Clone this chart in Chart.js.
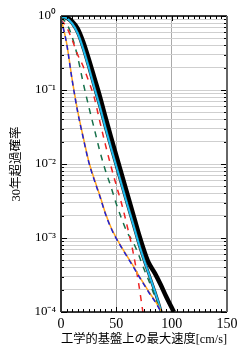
<!DOCTYPE html>
<html>
<head>
<meta charset="utf-8">
<script src="https://cdn.jsdelivr.net/npm/chart.js@4.4.0/dist/chart.umd.min.js"></script>
<style>
  html, body { margin: 0; padding: 0; background: #fff; }
</style>
</head>
<body>
<canvas id="hazardChart" width="247" height="357"></canvas>
<script>
// peak velocity on engineering bedrock [cm/s] and 30-year exceedance probability
const speedTotal = [0, 5, 10, 15, 20, 25, 30, 35, 40, 45, 50, 55, 60, 65, 70, 75, 79, 85, 90, 95, 100, 102];
const probTotal = [0.99, 0.955, 0.85, 0.676, 0.447, 0.263, 0.148, 0.083, 0.0437, 0.0234, 0.0129, 7.1e-3, 3.9e-3, 2.14e-3, 1.17e-3, 6.8e-4, 4.7e-4, 3.3e-4, 2.35e-4, 1.62e-4, 1.15e-4, 1e-4];

const speedCyan = [0, 5, 10, 15, 20, 25, 30, 35, 40, 45, 50, 55, 60, 65, 70, 74, 79, 85, 90, 90.5];
const probCyan = [0.982, 0.933, 0.794, 0.589, 0.363, 0.204, 0.11, 0.0603, 0.0316, 0.017, 9.3e-3, 5.13e-3, 2.82e-3, 1.58e-3, 8.7e-4, 5.62e-4, 3.39e-4, 1.86e-4, 1.07e-4, 1e-4];

const speedRed = [0, 5, 10, 15, 20, 25, 30, 35, 40, 45, 50, 55, 60, 65, 70, 74];
const probRed = [0.891, 0.708, 0.479, 0.302, 0.209, 0.132, 0.0794, 0.038, 0.0186, 9.5e-3, 5.13e-3, 2.82e-3, 1.41e-3, 6.6e-4, 2.51e-4, 1e-4];

const speedGreen = [0, 5, 10, 15, 20, 25, 30, 35, 40, 45, 50, 55, 60, 65, 70, 75, 80, 85, 90];
const probGreen = [0.955, 0.794, 0.525, 0.282, 0.126, 0.0603, 0.0302, 0.0151, 8.3e-3, 5.0e-3, 2.88e-3, 1.78e-3, 1.17e-3, 8.9e-4, 6.0e-4, 3.8e-4, 2.51e-4, 1.58e-4, 1e-4];

const speedOrange = [0, 5, 10, 15, 20, 25, 30, 35, 40, 45, 50, 55, 60, 65, 70, 75, 80, 85, 90, 91];
const probOrange = [0.933, 0.437, 0.141, 0.0525, 0.0234, 0.011, 6.3e-3, 3.8e-3, 2.19e-3, 1.41e-3, 1e-3, 7.4e-4, 5.6e-4, 4.27e-4, 3.16e-4, 2.4e-4, 1.82e-4, 1.41e-4, 1.07e-4, 1e-4];

const speedBlue = [0, 5, 10, 15, 20, 25, 30, 35, 40, 45, 50, 55, 60, 65, 70, 75, 80, 85, 90, 90.5];
const probBlue = [0.92, 0.43, 0.138, 0.051, 0.0228, 0.0107, 6.1e-3, 3.7e-3, 2.15e-3, 1.38e-3, 9.8e-4, 7.3e-4, 5.5e-4, 4.15e-4, 3.1e-4, 2.35e-4, 1.78e-4, 1.38e-4, 1.03e-4, 1e-4];

const xTicks = [0, 50, 100, 150];
const yTickValues = [1, 1e-1, 1e-2, 1e-3, 1e-4];
const yTickLabels = ['10⁰', '10⁻¹', '10⁻²', '10⁻³', '10⁻⁴'];

// minor log positions 1..9 per decade
const yGridValues = [];
for (let e = -4; e < 0; e++) {
    for (let k = 1; k <= 9; k++) {
        yGridValues.push({value: k * Math.pow(10, e), major: k === 1});
    }
}
yGridValues.push({value: 1, major: true});

function toPoints(xs, ys){
    return xs.map((v, i) => ({x: v, y: ys[i]}));
}

const serif = "'Liberation Serif', 'Noto Sans CJK JP', serif";

const frameTicks = {
    id: 'frameTicks',
    afterDraw(chart){
        const ctx = chart.ctx;
        const a = chart.chartArea;
        const x = chart.scales.x;
        const y = chart.scales.y;
        ctx.save();
        ctx.strokeStyle = '#000';
        ctx.lineWidth = 1;
        ctx.beginPath();
        for (let v = 0; v <= 150; v += 5) {
            const px = Math.round(x.getPixelForValue(v)) + 0.5;
            const len = v % 50 === 0 ? 5 : 3;
            ctx.moveTo(px, a.top); ctx.lineTo(px, a.top + len);
            ctx.moveTo(px, a.bottom); ctx.lineTo(px, a.bottom - len);
        }
        yGridValues.forEach(t => {
            const py = Math.round(y.getPixelForValue(t.value)) + 0.5;
            const len = t.major ? 6 : 3;
            ctx.moveTo(a.left, py); ctx.lineTo(a.left + len, py);
            ctx.moveTo(a.right, py); ctx.lineTo(a.right - len, py);
        });
        ctx.stroke();

        ctx.lineWidth = 1.5;
        ctx.beginPath();
        ctx.moveTo(a.left, a.top); ctx.lineTo(a.right, a.top);
        ctx.moveTo(a.left, a.bottom); ctx.lineTo(a.right, a.bottom);
        ctx.stroke();
        ctx.lineWidth = 2;
        ctx.strokeStyle = '#333';
        ctx.beginPath();
        ctx.moveTo(a.left, a.top); ctx.lineTo(a.left, a.bottom);
        ctx.stroke();
        ctx.strokeStyle = '#666';
        ctx.beginPath();
        ctx.moveTo(a.right, a.top); ctx.lineTo(a.right, a.bottom);
        ctx.stroke();
        ctx.restore();
    }
};

const ctx = document.getElementById('hazardChart').getContext('2d');
const hazardChart = new Chart(ctx, {
    type: 'line',
    data: {
        datasets: [{
            data: toPoints(speedBlue, probBlue),
            borderColor: '#1f1fd6',
            borderWidth: 1.5,
            borderDash: [5, 4]
        }, {
            data: toPoints(speedOrange, probOrange),
            borderColor: '#ffa31a',
            borderWidth: 1.5
        }, {
            data: toPoints(speedRed, probRed),
            borderColor: '#ee2222',
            borderWidth: 1.5,
            borderDash: [6, 6]
        }, {
            data: toPoints(speedGreen, probGreen),
            borderColor: '#16704a',
            borderWidth: 1.5,
            borderDash: [6, 6]
        }, {
            data: toPoints(speedCyan, probCyan),
            borderColor: '#1cbcf0',
            borderWidth: 2
        }, {
            data: toPoints(speedCyan, probCyan),
            borderColor: '#222',
            borderWidth: 3
        }, {
            data: toPoints(speedTotal, probTotal),
            borderColor: '#000',
            borderWidth: 4.5
        }].map(d => Object.assign({
            fill: false,
            pointRadius: 0,
            cubicInterpolationMode: 'monotone'
        }, d))
    },
    options: {
        responsive: false,
        animation: false,
        layout: { padding: { left: 0, right: 20, top: 16, bottom: 0 } },
        plugins: {
            legend: { display: false },
            tooltip: { enabled: false }
        },
        scales: {
            x: {
                type: 'linear',
                min: 0,
                max: 150,
                afterBuildTicks: s => { s.ticks = xTicks.map(v => ({value: v})); },
                afterFit: s => { s.height = 45; },
                ticks: { color: '#000', padding: 4, font: { family: serif, size: 14 } },
                grid: { color: '#aaa', drawTicks: false },
                border: { display: false },
                title: {
                    display: true,
                    text: '工学的基盤上の最大速度[cm/s]',
                    color: '#000',
                    font: { family: serif, size: 12.5 },
                    padding: { top: 0, bottom: 9.5 }
                }
            },
            y: {
                type: 'logarithmic',
                min: 1e-4,
                max: 1,
                afterBuildTicks: s => { s.ticks = yGridValues.map(t => ({value: t.value, major: t.major})); },
                afterFit: s => { s.width = 61; },
                ticks: {
                    autoSkip: false,
                    color: '#000',
                    padding: 5,
                    font: { family: serif, size: 13 },
                    callback: (value) => {
                        const i = yTickValues.findIndex(v => Math.abs(v - value) < v * 1e-6);
                        return i >= 0 ? yTickLabels[i] : '';
                    }
                },
                grid: { color: '#cfcfcf', drawTicks: false },
                border: { display: false },
                title: {
                    display: true,
                    text: '30年超過確率',
                    color: '#000',
                    font: { family: serif, size: 12.5 },
                    padding: { top: 9.5, bottom: 0 }
                }
            }
        }
    },
    plugins: [frameTicks]
});
</script>
</body>
</html>
